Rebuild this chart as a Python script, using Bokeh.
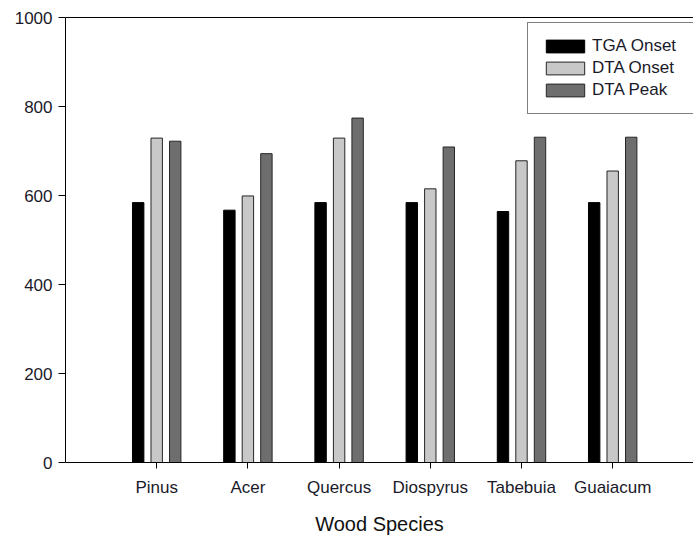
import numpy as np
from bokeh.plotting import figure
from bokeh.models import (Legend, LegendItem, LinearAxis, FixedTicker, Range1d)
from bokeh.embed import file_html
from bokeh.resources import INLINE

species = ["Pinus", "Acer", "Quercus", "Diospyrus", "Tabebuia", "Guaiacum"]
tga_onset = [584, 567, 584, 584, 564, 584]
dta_onset = [729, 599, 729, 615, 678, 655]
dta_peak = [722, 694, 774, 709, 731, 731]
y_ticks = [0, 200, 400, 600, 800, 1000]
series_names = ["TGA Onset", "DTA Onset", "DTA Peak"]

FONT = "Liberation Sans"

p = figure(width=693, height=537, output_backend="svg", toolbar_location=None,
           x_range=Range1d(0, 6.886), y_range=Range1d(0, 1000),
           min_border_left=65, min_border_right=0, min_border_top=17,
           min_border_bottom=74)
p.outline_line_color = None
p.xgrid.visible = False
p.ygrid.visible = False
p.background_fill_color = "white"
p.border_fill_color = "white"

xc = np.arange(1, len(species) + 1)
offset = 0.203
bw = 0.125

r1 = p.vbar(x=xc - offset, top=tga_onset, width=bw, bottom=0,
            fill_color="#000000", line_color="#000000", line_width=1)
r2 = p.vbar(x=xc, top=dta_onset, width=bw, bottom=0,
            fill_color="#c8c8c8", line_color="#262626", line_width=1)
r3 = p.vbar(x=xc + offset, top=dta_peak, width=bw, bottom=0,
            fill_color="#6e6e6e", line_color="#262626", line_width=1)

# x axis
xa = p.xaxis[0]
xa.ticker = FixedTicker(ticks=list(xc))
overrides = {int(i): s for i, s in zip(xc, species)}
overrides.update({float(i): s for i, s in zip(xc, species)})
xa.major_label_overrides = overrides
xa.minor_tick_line_color = None
xa.major_tick_in = 0
xa.major_tick_out = 6
xa.axis_line_color = "black"
xa.major_tick_line_color = "black"
xa.major_label_text_font = FONT
xa.major_label_text_font_size = "17px"
xa.major_label_text_color = "#1a1a2a"
xa.major_label_standoff = 9
xa.axis_label = "Wood Species"
xa.axis_label_text_font = FONT
xa.axis_label_text_font_size = "20px"
xa.axis_label_text_font_style = "normal"
xa.axis_label_text_color = "#111111"
xa.axis_label_standoff = 13

# y axis
ya = p.yaxis[0]
ya.ticker = FixedTicker(ticks=y_ticks)
ya.minor_tick_line_color = None
ya.major_tick_in = 0
ya.major_tick_out = 7
ya.axis_line_color = "black"
ya.major_tick_line_color = "black"
ya.major_label_text_font = FONT
ya.major_label_text_font_size = "17px"
ya.major_label_text_color = "#1a1a2a"
ya.major_label_standoff = 6

# top line
top = LinearAxis(ticker=FixedTicker(ticks=[]), major_tick_out=0, major_tick_in=0,
                 major_label_standoff=0, minor_tick_line_color=None,
                 axis_line_color="black")
p.add_layout(top, "above")

legend = Legend(items=[LegendItem(label=series_names[0], renderers=[r1]),
                       LegendItem(label=series_names[1], renderers=[r2]),
                       LegendItem(label=series_names[2], renderers=[r3])],
                location=(462, 348))
legend.border_line_color = "black"
legend.border_line_width = 1
legend.background_fill_color = "white"
legend.background_fill_alpha = 1
legend.padding = 13
legend.margin = 0
legend.spacing = 2
legend.glyph_width = 48
legend.glyph_height = 16
legend.label_standoff = 3
legend.label_height = 20
legend.label_width = 130
legend.label_text_font = FONT
legend.label_text_font_size = "17px"
legend.label_text_color = "#1a1a2a"
p.add_layout(legend, "center")

open("out.html", "w").write(file_html(p, INLINE))
